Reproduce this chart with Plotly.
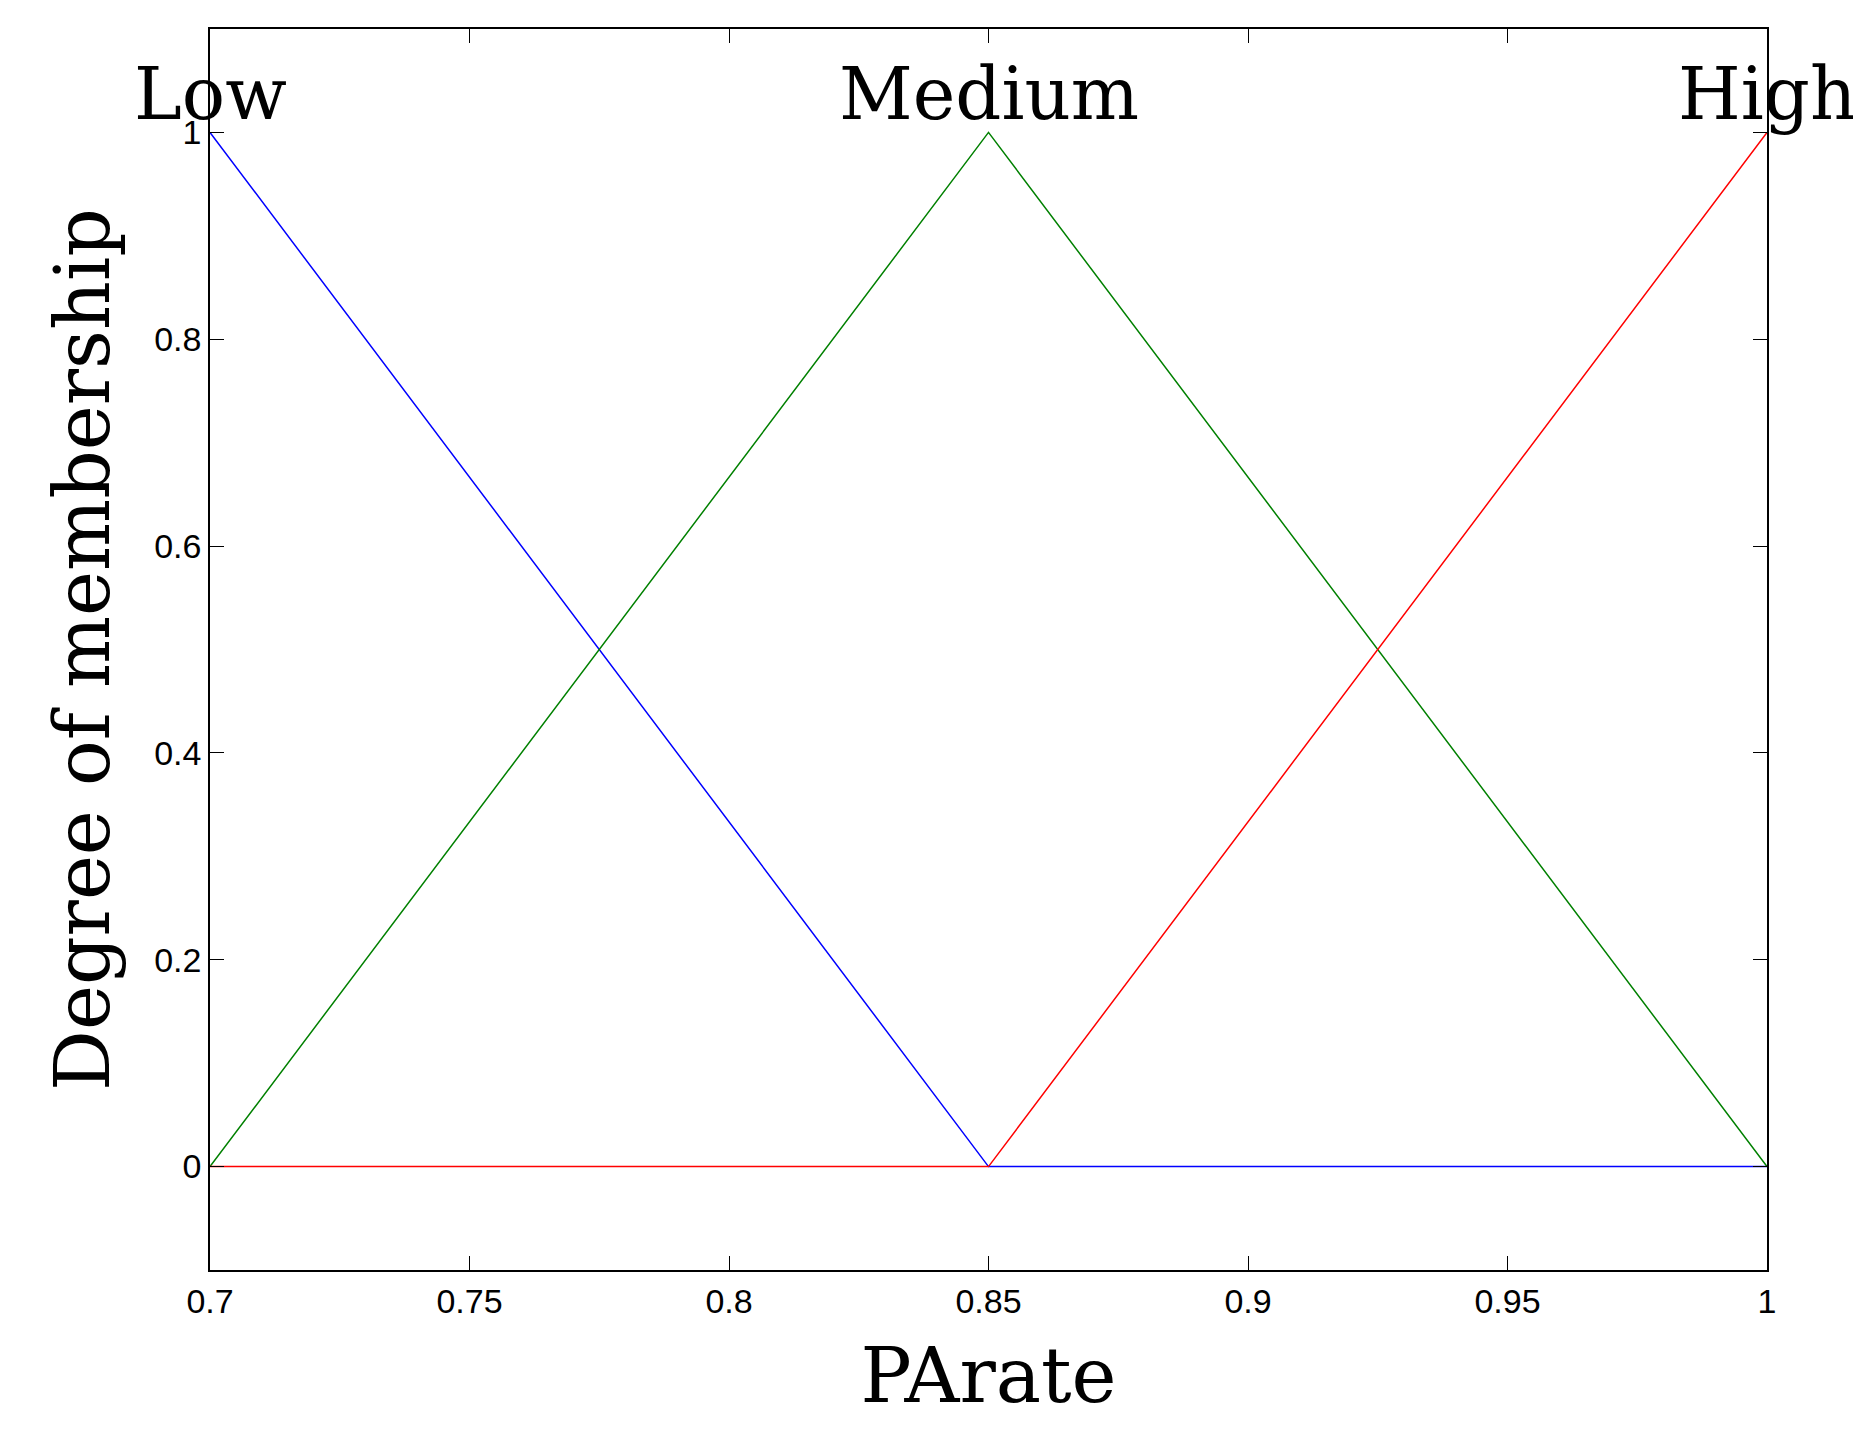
import plotly.graph_objects as go

# membership function breakpoints
parate = [0.7, 0.85, 1.0]
low = [1, 0, 0]
medium = [0, 1, 0]
high = [0, 0, 1]

labels = ["Low", "Medium", "High"]
label_x = [0.7, 0.85, 1.0]

fig = go.Figure()
fig.add_trace(go.Scatter(x=parate, y=low, mode="lines", line=dict(color="blue", width=1.5)))
fig.add_trace(go.Scatter(x=parate, y=medium, mode="lines", line=dict(color="green", width=1.5)))
fig.add_trace(go.Scatter(x=parate, y=high, mode="lines", line=dict(color="red", width=1.5)))

for lab, lx in zip(labels, label_x):
    fig.add_annotation(x=lx, y=1, text=lab, showarrow=False, yanchor="bottom", yshift=-6,
                       font=dict(family="DejaVu Serif, serif", size=72, color="black"))

axis = dict(showgrid=False, zeroline=False, showline=True, linecolor="black", linewidth=1.5,
            mirror="ticks", ticks="inside", ticklen=14, tickcolor="black",
            tickfont=dict(family="Liberation Sans, Arial", size=34, color="black"))

fig.update_xaxes(range=[0.7, 1.0], tickvals=[0.7, 0.75, 0.8, 0.85, 0.9, 0.95, 1.0],
                 ticktext=["0.7", "0.75", "0.8", "0.85", "0.9", "0.95", "1"],
                 title=dict(text="PArate", font=dict(family="DejaVu Serif, serif", size=76, color="black"),
                            standoff=30), **axis)
fig.update_yaxes(range=[-0.1, 1.1], tickvals=[0, 0.2, 0.4, 0.6, 0.8, 1],
                 ticktext=["0", "0.2", "0.4", "0.6", "0.8", "1"],
                 title=dict(text="Degree of membership", font=dict(family="DejaVu Serif, serif", size=76, color="black"),
                            standoff=20), **axis)

fig.update_layout(width=1861, height=1438, showlegend=False, plot_bgcolor="white", paper_bgcolor="white",
                  margin=dict(l=202, r=102, t=21, b=176))
fig.write_html("out.html")
